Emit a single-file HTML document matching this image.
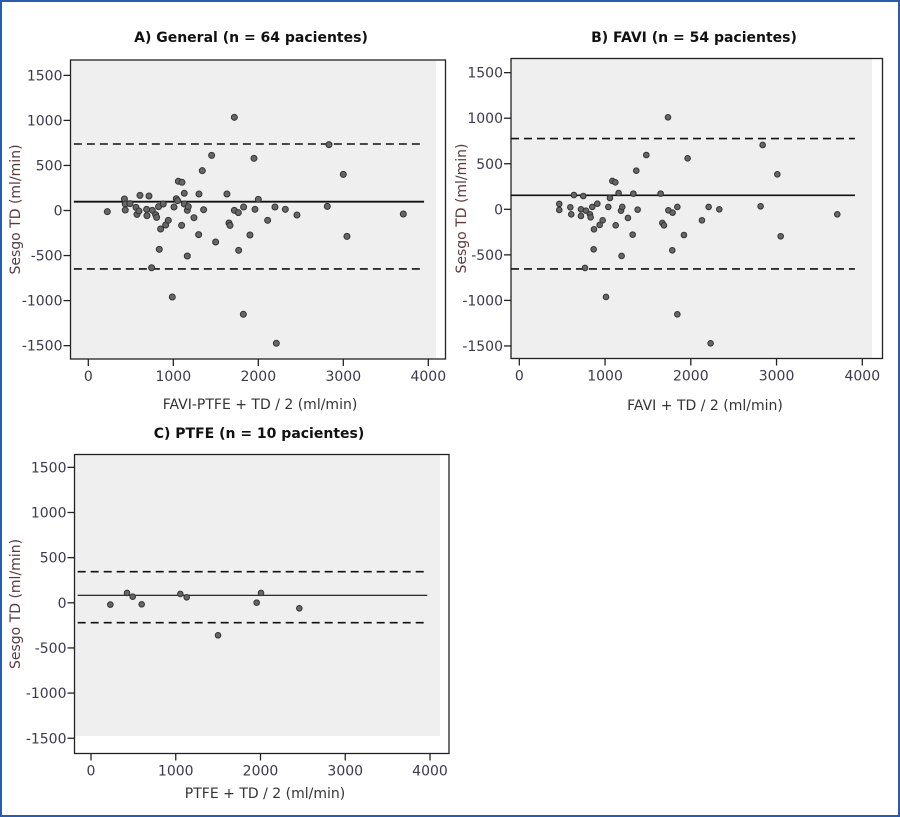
<!DOCTYPE html>
<html><head><meta charset="utf-8">
<style>
html,body{margin:0;padding:0;background:#fff;}
svg{display:block;font-family:"DejaVu Sans","Liberation Sans",sans-serif;}
</style></head>
<body>
<svg id="chart" width="900" height="817" viewBox="0 0 900 817" xmlns="http://www.w3.org/2000/svg">
<rect x="1" y="1" width="898" height="815" fill="#fff" stroke="#2a5cab" stroke-width="2"/>
</svg>
<script>
// Panel A data
const aX = [224,425,435,435,490,561,573,596,608,686,690,714,745,753,792,804,827,835,851,882,910,941,988,1008,1035,1059,1051,1102,1098,1129,1129,1165,1176,1165,1243,1302,1298,1341,1357,1451,1498,1631,1655,1667,1718,1718,1765,1769,1827,1824,1902,1949,1961,2000,2110,2196,2212,2318,2455,2812,2831,3000,3043,3706];
const aY = [-13,128,72,5,76,35,-43,-6,168,13,-57,161,-635,2,-46,-76,43,-431,-205,72,-161,-109,-960,39,131,324,109,313,-165,191,72,2,43,-505,-80,183,-268,442,9,612,-350,183,-139,-165,1034,2,-24,-442,39,-1152,-272,579,13,124,-109,39,-1474,13,-50,46,731,401,-287,-39];
const aLines = [98, 738, -649];
// Panel B data
const bX = [466,466,595,606,637,719,719,746,777,824,832,851,871,867,766,910,937,972,1011,1038,1057,1085,1120,1124,1158,1186,1201,1193,1267,1322,1330,1364,1380,1481,1648,1668,1687,1734,1738,1788,1784,1843,1843,1920,1963,2130,2208,2231,2332,2814,2838,3009,3048,3708];
const bY = [59,-7,22,-55,157,0,-73,146,-15,-55,-88,26,-220,-439,-644,62,-172,-121,-962,26,124,311,296,-176,179,-15,26,-512,-95,-278,172,424,-4,596,172,-150,-176,1010,-11,-37,-450,26,-1153,-282,560,-121,26,-1471,0,33,706,384,-296,-55];
const bLines = [154, 776, -655];
// Panel C data
const cX = [228,425,492,598,1054,1129,1499,1955,2006,2458];
const cY = [-20,109,68,-17,98,61,-360,2,109,-61];
const cLines = [83, 345, -220];
const yTicks = [1500,1000,500,0,-500,-1000,-1500];
const xTicks = [0,1000,2000,3000,4000];

const NS="http://www.w3.org/2000/svg";
const svg=document.getElementById('chart');
function mk(tag,attrs,parent){const e=document.createElementNS(NS,tag);for(const k in attrs)e.setAttribute(k,attrs[k]);(parent||svg).appendChild(e);return e;}

function panel(p){
  const g=mk('g',{});
  
  
  const sx=v=>p.x0+v*p.xs, sy=v=>p.y0-v*p.ys;
  const bg=mk('rect',{x:p.fl,y:p.ft,width:p.gr-p.fl,height:p.gb-p.ft,fill:'#efefef'},g);
  
  
  const fr=mk('rect',{x:p.fl,y:p.ft,width:p.fr-p.fl,height:p.fb-p.ft,fill:'none',stroke:'#222','stroke-width':1.3},g);
  
  
  yTicks.forEach(t=>{
    const y=sy(t);
    const l=mk('line',{x1:p.fl-7,x2:p.fl,y1:y,y2:y,stroke:'#222','stroke-width':1.3},g);
    
    
    const tx=mk('text',{x:p.fl-8,y:y+5,'text-anchor':'end','font-size':14,fill:'#3a3a4a'},g);
    tx.textContent=String(t);
    
    
  });
  xTicks.forEach(t=>{
    const x=sx(t);
    const l=mk('line',{x1:x,x2:x,y1:p.fb,y2:p.fb+7,stroke:'#222','stroke-width':1.3},g);
    
    
    const tx=mk('text',{x:x,y:p.fb+22,'text-anchor':'middle','font-size':14,fill:'#3a3a4a'},g);
    tx.textContent=String(t);
    
    
  });
  p.lines.forEach((v,i)=>{
    const y=sy(v);
    const l=mk('line',{x1:sx(p.lx[0]),x2:sx(p.lx[1]),y1:y,y2:y,stroke:'#111','stroke-width':i===0?p.mw:1.6},g);
    if(i>0)l.setAttribute('stroke-dasharray','8,5');
    
    
  });
  p.xs_.forEach((v,i)=>{
    const c=mk('circle',{cx:sx(v),cy:sy(p.ys_[i]),r:p.r,fill:'#666',stroke:'#333','stroke-width':1},g);
    
    
  });
  const t=mk('text',{x:p.tx,y:p.ty,'text-anchor':'middle','font-size':14,'font-weight':'bold',fill:'#111'},g);
  t.textContent=p.title;
  
  
  const xt=mk('text',{x:p.xtx,y:p.xty,'text-anchor':'middle','font-size':14,fill:'#333'},g);
  xt.textContent=p.xlabel;
  
  
  const yc=(p.ft+p.fb)/2;
  const yt=mk('text',{x:p.ytx,y:yc,'text-anchor':'middle','font-size':14,fill:'#5a3a3a',transform:`rotate(-90 ${p.ytx} ${yc})`},g);
  yt.textContent='Sesgo TD (ml/min)';
  
  
}

panel({name:'panel-a-general',fl:70.5,ft:60,fr:445.5,fb:359,gr:436,gb:359,x0:88.3,xs:0.085,y0:210.5,ys:0.0901,
  lines:aLines,lx:[-170,3950],mw:1.8,xs_:aX,ys_:aY,r:3,title:'A) General  (n = 64 pacientes)',tx:251,ty:42,
  xlabel:'FAVI-PTFE + TD / 2 (ml/min)',xtx:260,xty:409,ytx:20});
panel({name:'panel-b-favi',fl:511,ft:58.5,fr:882.5,fb:358.5,gr:872,gb:358.5,x0:519.3,xs:0.08575,y0:209.3,ys:0.0911,
  lines:bLines,lx:[-97,3914],mw:1.6,xs_:bX,ys_:bY,r:2.8,title:'B) FAVI (n = 54 pacientes)',tx:694,ty:42,
  xlabel:'FAVI + TD / 2 (ml/min)',xtx:705,xty:410,ytx:466});
panel({name:'panel-c-ptfe',fl:74.5,ft:454.5,fr:449,fb:753.5,gr:440,gb:736,x0:91,xs:0.08475,y0:602.8,ys:0.0903,
  lines:cLines,lx:[-157,3968],mw:1.1,xs_:cX,ys_:cY,r:2.8,title:'C) PTFE  (n = 10 pacientes)',tx:259,ty:438,
  xlabel:'PTFE + TD / 2 (ml/min)',xtx:265,xty:798,ytx:20});
</script>
</body></html>
